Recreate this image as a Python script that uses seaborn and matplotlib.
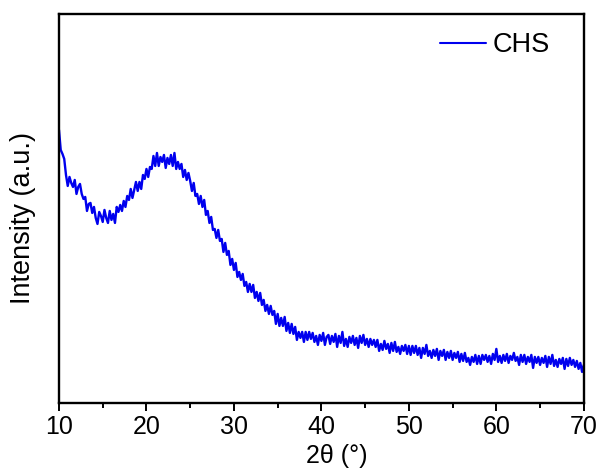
import numpy as np
import pandas as pd
import matplotlib
matplotlib.use("Agg")
import matplotlib.pyplot as plt
import seaborn as sns
from matplotlib.ticker import MultipleLocator

# 2theta from 10 to 70 in 0.2 degree steps
two_theta = [round(10 + 0.2 * i, 1) for i in range(301)]
intensity = [
    273, 253, 249, 244, 228,
    217, 226, 220, 216, 223,
    209, 216, 219, 209, 204,
    206, 192, 199, 200, 190,
    196, 185, 179, 191, 187,
    181, 193, 185, 180, 192,
    183, 189, 180, 196, 191,
    198, 192, 202, 196, 207,
    203, 214, 205, 213, 221,
    212, 221, 214, 228, 224,
    234, 226, 236, 234, 247,
    237, 250, 237, 246, 241,
    248, 235, 245, 239, 248,
    237, 250, 234, 241, 234,
    239, 226, 233, 223, 230,
    222, 212, 220, 207, 209,
    199, 207, 196, 203, 188,
    192, 180, 186, 173, 174,
    165, 173, 162, 164, 151,
    160, 148, 152, 138, 144,
    133, 140, 126, 131, 123,
    129, 117, 121, 111, 119,
    111, 118, 105, 111, 102,
    110, 98, 103, 92, 98,
    89, 97, 88, 92, 79,
    89, 77, 85, 77, 86,
    72, 80, 70, 79, 69,
    76, 63, 71, 65, 71,
    61, 71, 63, 71, 64,
    70, 61, 67, 58, 68,
    62, 70, 58, 66, 68,
    59, 67, 61, 69, 56,
    67, 60, 71, 57, 64,
    56, 66, 60, 67, 58,
    65, 55, 67, 60, 68,
    58, 64, 56, 64, 58,
    63, 56, 63, 52, 59,
    53, 62, 54, 59, 50,
    60, 52, 61, 51, 56,
    49, 57, 52, 58, 49,
    57, 48, 57, 50, 57,
    48, 55, 45, 55, 49,
    58, 47, 52, 45, 53,
    47, 54, 43, 52, 47,
    53, 43, 51, 45, 52,
    43, 50, 45, 51, 41,
    49, 42, 50, 41, 45,
    38, 46, 41, 48, 39,
    47, 39, 48, 43, 48,
    41, 47, 39, 49, 43,
    54, 41, 47, 40, 48,
    42, 49, 40, 47, 43,
    50, 42, 46, 38, 48,
    41, 48, 39, 46, 41,
    48, 35, 46, 40, 46,
    38, 45, 40, 47, 36,
    46, 39, 48, 37, 43,
    36, 44, 39, 45, 34,
    44, 37, 45, 38, 43,
    36, 42, 34, 40, 31,
    38,
]
series_name = "CHS"
x_ticks = [10, 20, 30, 40, 50, 60, 70]

df = pd.DataFrame({"2theta": two_theta, "I": intensity, "sample": series_name})

sns.set_style("ticks")
plt.rcParams['font.family'] = ['Liberation Sans', 'DejaVu Sans']
plt.rcParams['text.color'] = 'black'
plt.rcParams['axes.labelcolor'] = 'black'
plt.rcParams['xtick.color'] = 'black'

fig = plt.figure(figsize=(6.05, 4.74), dpi=100)
ax = fig.add_axes([0.0975, 0.150, 0.8675, 0.8205])

sns.lineplot(data=df, x="2theta", y="I", hue="sample", palette=["#0000ee"],
             linewidth=1.7, ax=ax, legend=True)

ax.set_xlim(10, 70)
ax.set_ylim(0, 389)
ax.set_xticks(x_ticks)
ax.xaxis.set_minor_locator(MultipleLocator(5))
ax.set_yticks([])
ax.tick_params(axis='x', which='major', direction='out', length=6, width=1.4,
               labelsize=18, color='black', labelcolor='black', pad=3)
ax.tick_params(axis='x', which='minor', direction='out', length=3.5, width=1.4, color='black')
for s in ax.spines.values():
    s.set_visible(True)
    s.set_linewidth(1.7)
    s.set_color('black')

ax.set_xlabel("2θ (°)", fontsize=18)
ax.xaxis.set_label_coords(0.53, -0.105)
ax.set_ylabel("Intensity (a.u.)", fontsize=19.5)
ax.yaxis.set_label_coords(-0.043, 0.476)

leg = ax.legend(loc='center left', frameon=False, fontsize=19.5, handlelength=1.7,
                handletextpad=0.25, bbox_to_anchor=(0.70, 0.92), borderpad=0)
for line in leg.get_lines():
    line.set_linewidth(1.5)

fig.savefig("out.png", dpi=100)
